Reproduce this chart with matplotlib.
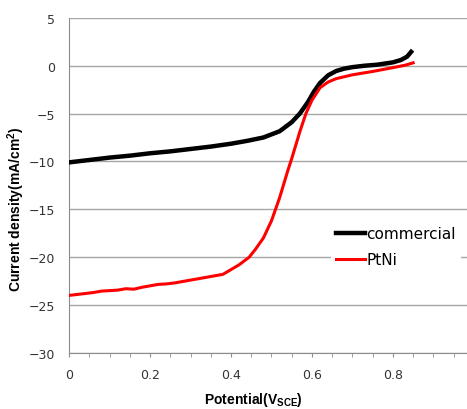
import numpy as np
import matplotlib.pyplot as plt
from matplotlib.ticker import MultipleLocator

# Datos
pot_commercial = [0.0, 0.05, 0.1, 0.15, 0.2, 0.25, 0.3, 0.35, 0.4, 0.44, 0.48, 0.52, 0.55, 0.57, 0.59, 0.605,
                  0.62, 0.64, 0.66, 0.68, 0.7, 0.73, 0.76, 0.8, 0.82, 0.835, 0.845]
cur_commercial = [-10.1, -9.85, -9.6, -9.4, -9.15, -8.95, -8.7, -8.45, -8.15, -7.85, -7.5, -6.85, -5.9, -5.0,
                  -3.8, -2.7, -1.8, -1.0, -0.55, -0.3, -0.15, 0.0, 0.1, 0.35, 0.6, 0.95, 1.45]

pot_ptni = [0.0, 0.02, 0.04, 0.06, 0.08, 0.1, 0.12, 0.14, 0.16, 0.18, 0.2, 0.22, 0.24, 0.26, 0.28, 0.3,
            0.32, 0.34, 0.36, 0.38, 0.4, 0.42, 0.445, 0.46, 0.48, 0.5, 0.52, 0.54, 0.55, 0.56, 0.57, 0.585,
            0.6, 0.62, 0.64, 0.66, 0.7, 0.75, 0.8, 0.83, 0.85]
cur_ptni = [-24.0, -23.9, -23.8, -23.7, -23.55, -23.5, -23.45, -23.3, -23.35, -23.15, -23.0, -22.85, -22.8,
            -22.7, -22.55, -22.4, -22.25, -22.1, -21.95, -21.8, -21.3, -20.8, -20.0, -19.2, -18.0, -16.2,
            -13.8, -11.0, -9.7, -8.3, -6.9, -5.0, -3.6, -2.3, -1.7, -1.35, -0.95, -0.6, -0.2, 0.05, 0.3]

plt.rcParams['mathtext.default'] = 'regular'

fig = plt.figure(figsize=(4.67, 4.10), dpi=100)
ax = fig.add_axes([0.148, 0.137, 0.852, 0.817])

ax.plot(pot_commercial, cur_commercial, color="black", linewidth=3.2, label="commercial", zorder=3)
ax.plot(pot_ptni, cur_ptni, color="#ff0000", linewidth=2.2, label="PtNi", zorder=3)

ax.set_xlim(0, 0.983)
ax.set_ylim(-30, 5)
ax.xaxis.set_major_locator(MultipleLocator(0.2))
ax.xaxis.set_minor_locator(MultipleLocator(0.05))
ax.yaxis.set_major_locator(MultipleLocator(5))
ax.xaxis.set_major_formatter(plt.FuncFormatter(lambda v, p: "0" if abs(v) < 1e-9 else ("" if v > 0.9 else f"{v:.1f}")))

ax.grid(axis="y", color="#a6a6a6", linewidth=1)
ax.set_axisbelow(True)
for s in ["top", "right"]:
    ax.spines[s].set_visible(False)
for s in ["left", "bottom"]:
    ax.spines[s].set_color("#8c8c8c")
ax.tick_params(axis="x", which="both", direction="out", length=3, color="#8c8c8c", labelsize=9, pad=8, labelcolor="#333333")
ax.tick_params(axis="y", length=0, labelsize=9, pad=10, labelcolor="#333333")

ax.set_xlabel(r"Potential(V$_{SCE}$)", fontsize=10, fontweight="bold", family="Liberation Sans")
ax.xaxis.set_label_coords(0.462, -0.112)
ax.set_ylabel(r"Current density(mA/cm$^{2}$)", fontsize=10, fontweight="bold", family="Liberation Sans")
ax.yaxis.set_label_coords(-0.105, 0.43)

leg = ax.legend(loc="upper left", bbox_to_anchor=(0.64, 0.415), frameon=True, fontsize=11,
                handlelength=1.9, handletextpad=0.1, borderpad=0.3, labelspacing=0.75)
leg.get_frame().set_edgecolor("none")
leg.get_frame().set_facecolor("white")
leg.get_frame().set_alpha(1)

plt.savefig("out.png", dpi=100)
